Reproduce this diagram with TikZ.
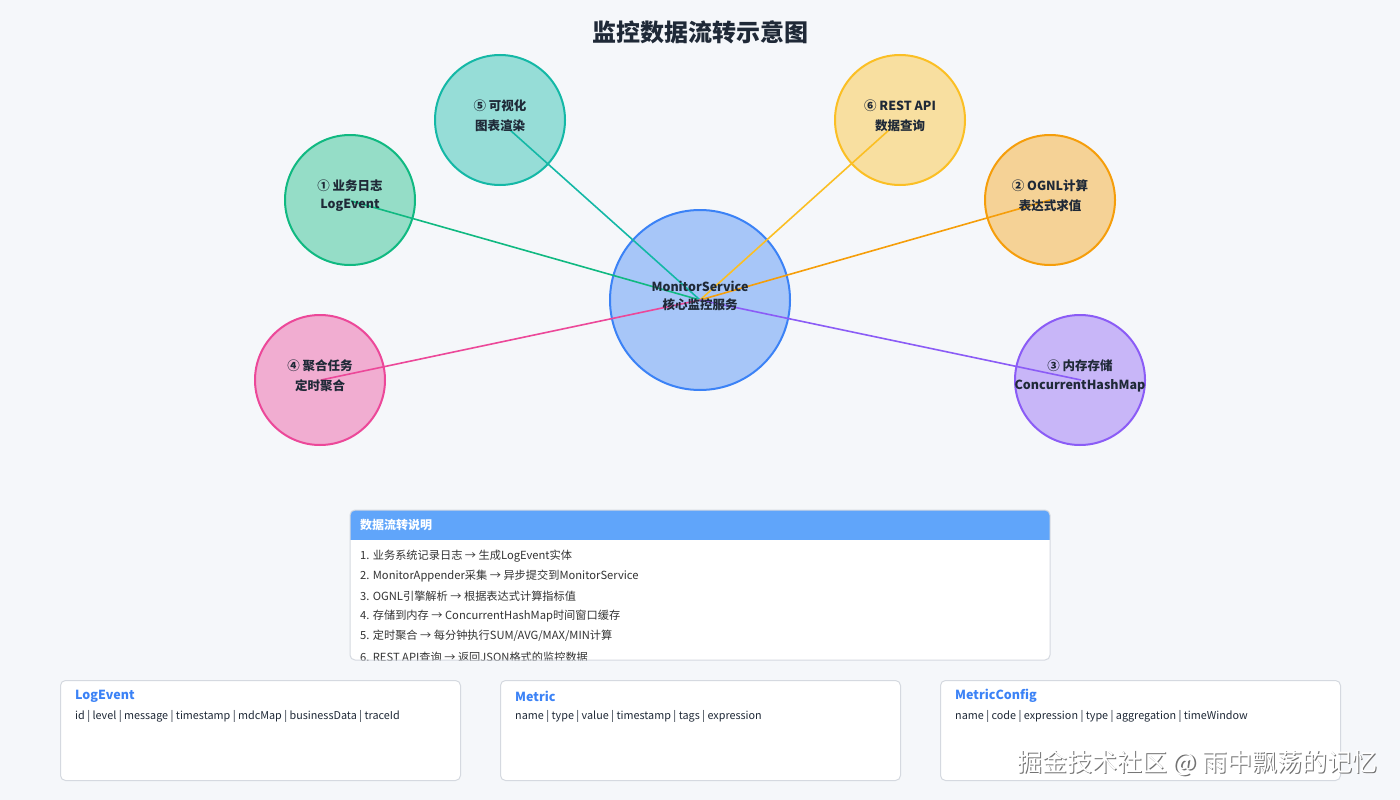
\documentclass[tikz,border=0pt]{standalone}
\usepackage{fontspec}
\setmainfont{Noto Sans CJK SC}
\definecolor{bg}{HTML}{F5F7FA}
\definecolor{ink}{HTML}{1F2937}
\definecolor{bodyink}{HTML}{333333}
\definecolor{cblue}{HTML}{3B82F6}
\definecolor{cgreen}{HTML}{10B981}
\definecolor{cteal}{HTML}{14B8A6}
\definecolor{cyellow}{HTML}{FBBF24}
\definecolor{corange}{HTML}{F59E0B}
\definecolor{cpink}{HTML}{EC4899}
\definecolor{cpurple}{HTML}{8B5CF6}
\definecolor{hdr}{HTML}{60A5FA}
\definecolor{boxline}{HTML}{D5D9E0}
\tikzset{
  bubble/.style={circle, line width=2pt, draw=#1, fill=#1!42!bg, inner sep=0pt},
  small/.style={bubble=#1, minimum size=130},
  big/.style={bubble=#1, minimum size=180},
  flow/.style={line width=1.6pt, draw=#1},
  lbl/.style={font=\fontsize{12.5}{14}\selectfont\bfseries, text=ink, inner sep=0pt},
  item/.style={font=\fontsize{11.2}{13}\selectfont, text=bodyink, anchor=west, inner sep=0pt},
  card/.style={draw=boxline, line width=1pt, fill=white, rounded corners=5pt, anchor=north west, minimum width=400, minimum height=100, inner sep=0pt},
  cardtitle/.style={font=\fontsize{12.5}{14}\selectfont\bfseries, text=cblue, anchor=west, inner sep=0pt},
  cardfields/.style={font=\fontsize{10.8}{12}\selectfont, text=ink, anchor=west, inner sep=0pt},
}
\begin{document}
\begin{tikzpicture}[x=1pt,y=-1pt]
\useasboundingbox (0,0) rectangle (1400,800);
\fill[bg] (0,0) rectangle (1400,800);

% title
\node[font=\fontsize{24}{28}\selectfont\bfseries, text=ink] (title) at (700,32) {监控数据流转示意图};

% circles
\node[big=cblue] (hubc) at (700,300) {};
\node[small=cgreen] (n1) at (350,200) {};
\node[small=cteal] (n5) at (500,120) {};
\node[small=cyellow] (n6) at (900,120) {};
\node[small=corange] (n2) at (1050,200) {};
\node[small=cpink] (n4) at (320,380) {};
\node[small=cpurple] (n3) at (1080,380) {};

% connector end points
\coordinate (hub) at (700,300);
\coordinate (p1) at (351,201);
\coordinate (p5) at (510,130);
\coordinate (p6) at (889,130);
\coordinate (p2) at (1050,200);
\coordinate (p4) at (321,380);
\coordinate (p3) at (1081,380);

\draw[flow=cgreen] (p1) -- (hub);
\draw[flow=cteal] (p5) -- (hub);
\draw[flow=cyellow] (p6) -- (hub);
\draw[flow=corange] (p2) -- (hub);
\draw[flow=cpink] (p4) -- (hub);
\draw[flow=cpurple] (p3) -- (hub);

% circle labels
\node[lbl] (h1) at (700,286) {MonitorService};
\node[lbl] (h2) at (700,305) {核心监控服务};
\node[lbl] (a1) at (350,186) {① 业务日志};
\node[lbl] (a2) at (350,205) {LogEvent};
\node[lbl] (e1) at (500,106) {⑤ 可视化};
\node[lbl] (e2) at (500,126) {图表渲染};
\node[lbl] (f1) at (900,106) {⑥ REST API};
\node[lbl] (f2) at (900,126) {数据查询};
\node[lbl] (b1) at (1050,186) {② OGNL计算};
\node[lbl] (b2) at (1050,206) {表达式求值};
\node[lbl] (d1) at (320,366) {④ 聚合任务};
\node[lbl] (d2) at (320,386) {定时聚合};
\node[lbl] (c1) at (1080,366) {③ 内存存储};
\node[lbl] (c2) at (1080,386) {ConcurrentHashMap};

% description panel
\fill[white, rounded corners=5pt] (350,510) rectangle (1050,660);
\begin{scope}
  \clip[rounded corners=5pt] (350,510) rectangle (1050,660);
  \fill[hdr] (350,510) rectangle (1050,540);
  \node[item] (i1) at (360,556) {1. 业务系统记录日志 → 生成LogEvent实体};
  \node[item] (i2) at (360,576) {2. MonitorAppender采集 → 异步提交到MonitorService};
  \node[item] (i3) at (360,596) {3. OGNL引擎解析 → 根据表达式计算指标值};
  \node[item] (i4) at (360,616) {4. 存储到内存 → ConcurrentHashMap时间窗口缓存};
  \node[item] (i5) at (360,636) {5. 定时聚合 → 每分钟执行SUM/AVG/MAX/MIN计算};
  \node[item] (i6) at (360,657) {6. REST API查询 → 返回JSON格式的监控数据};
\end{scope}
\draw[boxline, line width=1pt, rounded corners=5pt] (350,510) rectangle (1050,660);
\node[font=\fontsize{12}{14}\selectfont\bfseries, text=white, anchor=west, inner sep=0pt] (hdrtext) at (360,525) {数据流转说明};

% bottom cards
\node[card] (k1) at (60,680) {};
\node[card] (k2) at (500,680) {};
\node[card] (k3) at (940,680) {};
\node[cardtitle] (k1t) at (75,696) {LogEvent};
\node[cardfields] (k1f) at (75,716) {id | level | message | timestamp | mdcMap | businessData | traceId};
\node[cardtitle] (k2t) at (515,696) {Metric};
\node[cardfields] (k2f) at (515,716) {name | type | value | timestamp | tags | expression};
\node[cardtitle] (k3t) at (955,696) {MetricConfig};
\node[cardfields] (k3f) at (955,716) {name | code | expression | type | aggregation | timeWindow};

% watermark
\node[font=\fontsize{25}{28}\selectfont, text=black!55, anchor=west, inner sep=0pt] (wms) at (1018.2,764.2) {掘金技术社区 @ 雨中飘荡的记忆};
\node[font=\fontsize{25}{28}\selectfont, text=white, anchor=west, inner sep=0pt] (wm) at (1017,763) {掘金技术社区 @ 雨中飘荡的记忆};
\end{tikzpicture}
\end{document}
